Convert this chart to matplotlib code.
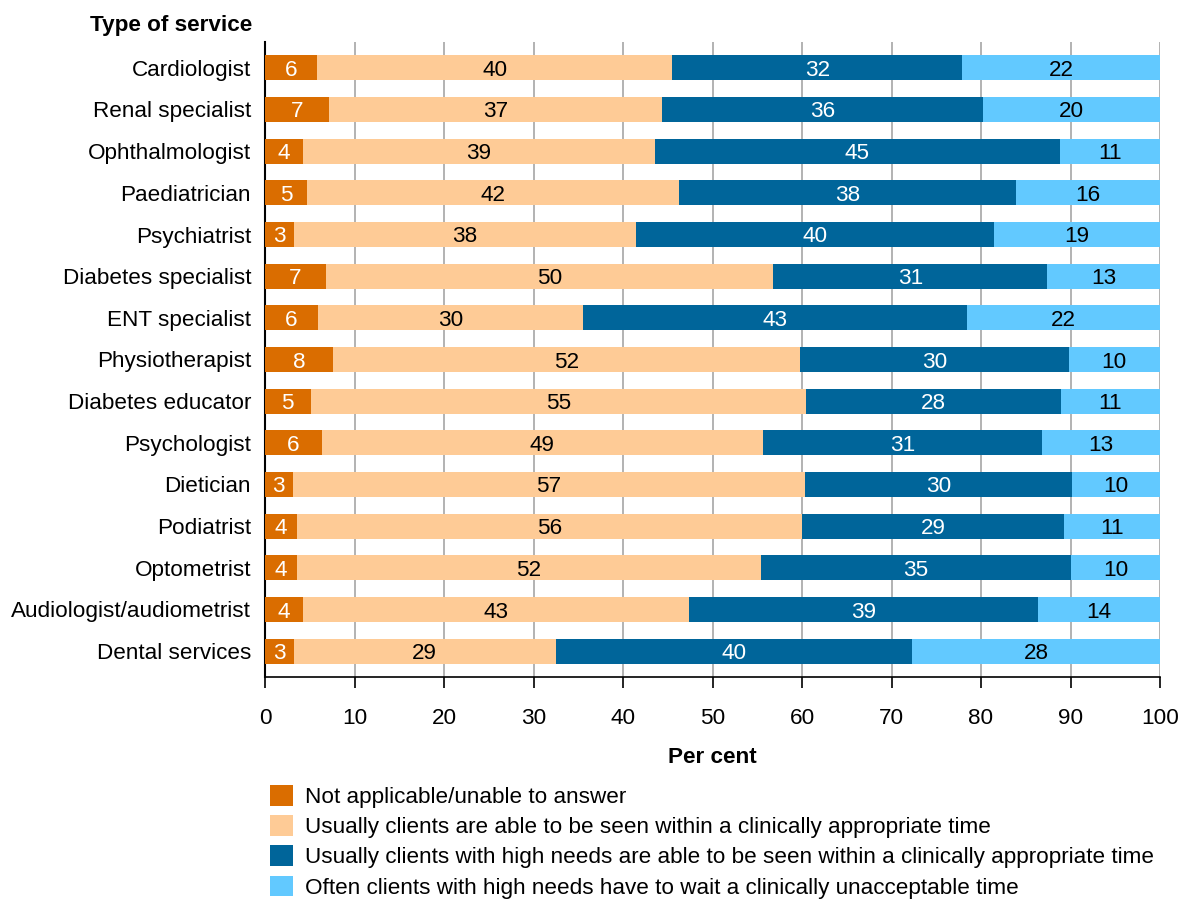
import matplotlib
matplotlib.use("Agg")
import matplotlib.pyplot as plt
from matplotlib.patches import Rectangle

plt.rcParams['font.family'] = ['Liberation Sans', 'DejaVu Sans']

services = [
    "Cardiologist", "Renal specialist", "Ophthalmologist", "Paediatrician",
    "Psychiatrist", "Diabetes specialist", "ENT specialist", "Physiotherapist",
    "Diabetes educator", "Psychologist", "Dietician", "Podiatrist",
    "Optometrist", "Audiologist/audiometrist", "Dental services",
]

not_applicable = [5.8, 7.1, 4.2, 4.7, 3.2, 6.8, 5.9, 7.6, 5.1, 6.4, 3.1, 3.6, 3.6, 4.2, 3.2]
seen_in_time = [39.7, 37.3, 39.4, 41.6, 38.3, 50.0, 29.6, 52.2, 55.4, 49.2, 57.2, 56.4, 51.8, 43.2, 29.3]
high_needs_seen = [32.4, 35.8, 45.2, 37.6, 39.9, 30.6, 42.9, 30.0, 28.4, 31.2, 29.9, 29.3, 34.7, 39.0, 39.8]
wait_unacceptable = [22.1, 19.8, 11.2, 16.1, 18.6, 12.6, 21.6, 10.2, 11.1, 13.2, 9.8, 10.8, 9.9, 13.6, 27.8]

series_names = [
    "Not applicable/unable to answer",
    "Usually clients are able to be seen within a clinically appropriate time",
    "Usually clients with high needs are able to be seen within a clinically appropriate time",
    "Often clients with high needs have to wait a clinically unacceptable time",
]
colors = ["#DA6D00", "#FECB96", "#00659A", "#62C9FF"]
text_colors = ["white", "black", "white", "black"]

x_ticks = list(range(0, 101, 10))

FS = 16.2
W, H = 1181, 899
fig = plt.figure(figsize=(W / 100, H / 100), dpi=100)
ax = fig.add_axes([265 / W, 1 - 677 / H, (1160 - 265) / W, (677 - 42) / H])

ypos = list(range(len(services)))
left = [0.0] * len(services)
all_series = [not_applicable, seen_in_time, high_needs_seen, wait_unacceptable]
for vals, col, tcol in zip(all_series, colors, text_colors):
    bars = ax.barh(ypos, vals, left=left, height=0.6, color=col, linewidth=0, zorder=3)
    texts = ax.bar_label(bars, labels=[f"{v:.0f}" for v in vals], label_type='center',
                         color=tcol, fontsize=FS)
    for t in texts:
        t.set_va('center_baseline')
    left = [a + b for a, b in zip(left, vals)]

ax.set_xlim(0, 100)
ax.set_ylim(14.62, -0.62)
ax.set_xticks(x_ticks)
ax.set_yticks(ypos)
ax.set_yticklabels(services, fontsize=FS)
for lbl in ax.get_yticklabels():
    lbl.set_va('center_baseline')
ax.tick_params(axis='y', length=0, pad=10)
ax.tick_params(axis='x', length=8, width=1.2, pad=14, labelsize=FS, direction='out')
ax.xaxis.grid(True, color='#a6a6a6', linewidth=1.2, zorder=0)
ax.set_axisbelow(True)
for s in ['top', 'right']:
    ax.spines[s].set_visible(False)
ax.spines['left'].set_linewidth(1.5)
ax.spines['bottom'].set_linewidth(1.2)

ax.set_xlabel("Per cent", fontsize=FS, fontweight='bold', labelpad=13)
fig.text(252 / W, 1 - 25 / H, "Type of service", fontsize=FS, fontweight='bold',
         ha='right', va='center')

handles = [Rectangle((0, 0), 1, 1, facecolor=c, edgecolor='none') for c in colors]
fig.legend(handles, series_names, loc='upper left',
           bbox_to_anchor=(270 / W, 1 - 785 / H), frameon=False, fontsize=FS,
           handlelength=1.03, handleheight=1.03, handletextpad=0.52,
           labelspacing=0.32, borderaxespad=0, borderpad=0)

fig.savefig("out.png", dpi=100)
